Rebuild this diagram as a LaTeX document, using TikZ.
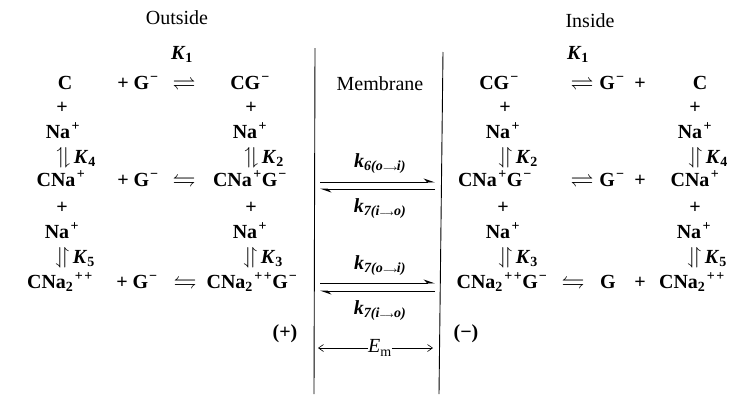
\documentclass[tikz,border=0pt]{standalone}
\usepackage{fontspec}
\usepackage{amssymb}
\usepackage{graphicx}
\setmainfont{Liberation Serif}
\usetikzlibrary{arrows.meta}
\newcommand{\mn}{\kern1pt\textsuperscript{−}}
\newcommand{\pl}{\kern1.5pt\textsuperscript{+}}
\newcommand{\ppl}{\kern1.5pt\textsuperscript{+\kern1.5pt+}}
\newcommand{\KK}[1]{\textit{K}\textsubscript{#1}}
\newcommand{\kk}[2]{\textit{k}\textsubscript{\textit{#1(#2)}}}
\newcommand{\oi}{o$\scriptscriptstyle\longrightarrow$\kern-0.5pt i}
\newcommand{\io}{i$\scriptscriptstyle\longrightarrow$o}
\newcommand{\upd}{\scalebox{1.15}{$\upharpoonleft\!\downharpoonright$}}
\newcommand{\dnu}{\scalebox{1.15}{$\downharpoonleft\!\upharpoonright$}}
\newcommand{\rlh}{\scalebox{1.15}{$\rightleftharpoons$}}
\newcommand{\lrh}{\scalebox{1.15}{$\leftrightharpoons$}}
\begin{document}
\begin{tikzpicture}[x=1pt,y=-1pt,
  every node/.style={inner sep=0pt, outer sep=0pt, font=\fontsize{20}{24}\selectfont\bfseries\boldmath},
  t/.style={anchor=base},
  tw/.style={anchor=base west},
  plain/.style={font=\fontsize{20}{24}\selectfont},
  harp/.style={line width=0.9pt, -{Stealth[harpoon,length=10pt,width=7pt]}},
  emarrow/.style={line width=0.6pt, -{Straight Barb[length=5pt,width=7pt]}},
  memline/.style={line width=0.9pt}]
\useasboundingbox (0,0) rectangle (747,394);

% headings
\node[t,plain] (outside) at (177,24) {Outside};
\node[t,plain] (inside) at (590,27) {Inside};
\node[t,plain] (membrane) at (380,90) {Membrane};

% membrane lines
\coordinate (mlt) at (315,48); \coordinate (mlb) at (314,394);
\coordinate (mrt) at (443,52); \coordinate (mrb) at (439,394);
\draw[memline] (mlt) -- (mlb);
\draw[memline] (mrt) -- (mrb);

% ===== Outside =====
\node[t] (K1o) at (182,59) {\KK{1}};
\node[t] (Co) at (65,89) {C};
\node[t] (pGo1) at (138,89) {+ G\mn};
\node[t] (eqo1) at (184,89) {\rlh};
\node[t] (CGo) at (250,89) {CG\mn};
\node[t] (po1) at (62,113) {+};
\node[t] (po2) at (251,113) {+};
\node[t] (Nao1) at (63,138) {Na\pl};
\node[t] (Nao2) at (250,138) {Na\pl};
\node[tw] (K4o) at (56,163) {\upd\,\KK{4}};
\node[tw] (K2o) at (244,163) {\upd\,\KK{2}};
\node[t] (CNao) at (61,186) {CNa\pl};
\node[t] (pGo2) at (138,186) {+ G\mn};
\node[t] (eqo2) at (184,186) {\lrh};
\node[t] (CNaGo) at (250,186) {CNa\pl G\mn};
\node[t] (po3) at (62,213) {+};
\node[t] (po4) at (251,213) {+};
\node[t] (Nao3) at (62,238) {Na\pl};
\node[t] (Nao4) at (250,238) {Na\pl};
\node[tw] (K5o) at (55,263) {\dnu\,\KK{5}};
\node[tw] (K3o) at (243,263) {\dnu\,\KK{3}};
\node[t] (CNa2o) at (60,288) {CNa\textsubscript{2}\ppl};
\node[t] (pGo3) at (137,288) {+ G\mn};
\node[t] (eqo3) at (185,288) {\lrh};
\node[t] (CNa2Go) at (252,288) {CNa\textsubscript{2}\ppl G\mn};
\node[t] (plus) at (285,338) {(+)};

% ===== Membrane =====
\coordinate (a1l) at (320,182); \coordinate (a1r) at (435,182);
\coordinate (b1r) at (435,189); \coordinate (b1l) at (320,189);
\draw[harp] (a1l) -- (a1r);
\draw[harp] (b1r) -- (b1l);
\node[t] (k6) at (380,167) {\kk{6}{\oi}};
\node[t] (k7a) at (380,212) {\kk{7}{\io}};
\coordinate (a2l) at (320,283); \coordinate (a2r) at (435,283);
\coordinate (b2r) at (435,291); \coordinate (b2l) at (320,291);
\draw[harp] (a2l) -- (a2r);
\draw[harp] (b2r) -- (b2l);
\node[t] (k7b) at (380,269) {\kk{7}{\oi}};
\node[t] (k7c) at (380,314) {\kk{7}{\io}};
\node[plain] (Em) at (380,348) {\textit{E}\textsubscript{m}};
\coordinate (eml) at (318,348); \coordinate (emr) at (433,348);
\draw[emarrow] (Em.west) -- (eml);
\draw[emarrow] (Em.east) -- (emr);

% ===== Inside =====
\node[t] (K1i) at (578,59) {\KK{1}};
\node[t] (CGi) at (499,89) {CG\mn};
\node[t] (eqi1) at (582,89) {\rlh};
\node[t] (Gi1) at (612,89) {G\mn};
\node[t] (pi1) at (640,89) {+};
\node[t] (Ci) at (700,89) {C};
\node[t] (pi2) at (505,113) {+};
\node[t] (pi3) at (695,113) {+};
\node[t] (Nai1) at (503,138) {Na\pl};
\node[t] (Nai2) at (695,138) {Na\pl};
\node[tw] (K2i) at (498,163) {\dnu\,\KK{2}};
\node[tw] (K4i) at (688,163) {\dnu\,\KK{4}};
\node[t] (CNaGi) at (495,186) {CNa\pl G\mn};
\node[t] (eqi2) at (582,186) {\rlh};
\node[t] (Gi2) at (612,186) {G\mn};
\node[t] (pi4) at (640,186) {+};
\node[t] (CNai) at (695,186) {CNa\pl};
\node[t] (pi5) at (503,213) {+};
\node[t] (pi6) at (695,213) {+};
\node[t] (Nai3) at (503,238) {Na\pl};
\node[t] (Nai4) at (694,238) {Na\pl};
\node[tw] (K3i) at (498,263) {\dnu\,\KK{3}};
\node[tw] (K5i) at (687,263) {\dnu\,\KK{5}};
\node[t] (CNa2Gi) at (502,288) {CNa\textsubscript{2}\ppl G\mn};
\node[t] (eqi3) at (573,288) {\lrh};
\node[t] (Gi3) at (608,288) {G};
\node[t] (pi7) at (640,288) {+};
\node[t] (CNa2i) at (692,288) {CNa\textsubscript{2}\ppl};
\node[t] (minus) at (466,338) {(−)};
\end{tikzpicture}
\end{document}
